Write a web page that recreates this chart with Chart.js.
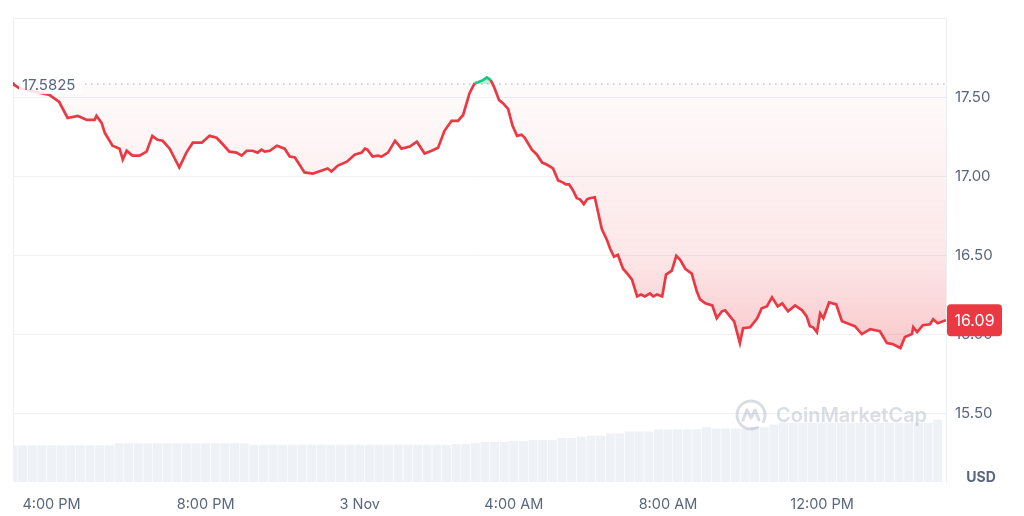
<!DOCTYPE html>
<html>
<head>
<meta charset="utf-8">
<style>
  html, body { margin: 0; padding: 0; background: #fff; }
  canvas { display: block; }
</style>
<script src="https://cdn.jsdelivr.net/npm/chart.js@4.4.0/dist/chart.umd.min.js"></script>
</head>
<body>
<canvas id="price-chart" width="1024" height="516"></canvas>
<script>
// minutes after 3:00 PM (2 Nov)
const priceMinutes = [
  0, 10, 30, 57, 72, 85, 101, 115, 127, 130,
  138, 143, 155, 166, 171, 177, 186, 197, 208, 217,
  225, 233, 244, 259, 270, 280, 294, 306, 317, 326,
  337, 348, 356, 364, 373, 381, 387, 392, 400, 411,
  423, 431, 439, 454, 467, 481, 490, 496, 506, 520,
  532, 543, 548, 552, 560, 568, 574, 584, 595, 605,
  618, 629, 641, 652, 662, 672, 683, 693, 701, 711,
  719, 724, 732, 738, 744, 750, 757, 763, 771, 778,
  785, 792, 797, 808, 816, 824, 831, 841, 849, 856,
  861, 866, 872, 878, 883, 889, 894, 898, 906, 917,
  925, 930, 936, 942, 950, 958, 964, 972, 978, 984,
  992, 997, 1003, 1011, 1017, 1026, 1033, 1039, 1047, 1057,
  1065, 1070, 1078, 1089, 1096, 1104, 1109, 1120, 1123, 1132,
  1137, 1148, 1159, 1166, 1174, 1182, 1191, 1198, 1207, 1218,
  1229, 1236, 1241, 1246, 1252, 1257, 1262, 1271, 1282, 1291,
  1299, 1311, 1322, 1335, 1350, 1361, 1370, 1382, 1389, 1400,
  1402, 1408, 1417, 1428, 1433, 1440, 1453
];

const prices = [
  17.5825, 17.556, 17.538, 17.513, 17.469, 17.368, 17.381, 17.356, 17.356, 17.381,
  17.337, 17.274, 17.193, 17.174, 17.105, 17.161, 17.130, 17.130, 17.155, 17.255,
  17.230, 17.224, 17.174, 17.055, 17.149, 17.212, 17.212, 17.255, 17.243, 17.205,
  17.155, 17.149, 17.130, 17.161, 17.161, 17.149, 17.168, 17.155, 17.161, 17.193,
  17.174, 17.124, 17.118, 17.024, 17.017, 17.036, 17.049, 17.030, 17.067, 17.092,
  17.136, 17.149, 17.174, 17.168, 17.124, 17.130, 17.124, 17.149, 17.224, 17.174,
  17.187, 17.218, 17.143, 17.161, 17.180, 17.287, 17.350, 17.350, 17.387, 17.525,
  17.588, 17.594, 17.607, 17.625, 17.607, 17.556, 17.481, 17.462, 17.425, 17.318,
  17.255, 17.262, 17.243, 17.168, 17.136, 17.086, 17.074, 17.049, 16.973, 16.961,
  16.948, 16.948, 16.911, 16.861, 16.854, 16.823, 16.854, 16.861, 16.867, 16.666,
  16.597, 16.541, 16.491, 16.503, 16.415, 16.378, 16.346, 16.240, 16.252, 16.240,
  16.259, 16.240, 16.252, 16.240, 16.378, 16.403, 16.497, 16.472, 16.415, 16.384,
  16.271, 16.221, 16.196, 16.183, 16.102, 16.146, 16.152, 16.096, 16.083, 15.945,
  16.039, 16.045, 16.102, 16.165, 16.177, 16.234, 16.177, 16.196, 16.146, 16.183,
  16.152, 16.114, 16.052, 16.045, 16.014, 16.133, 16.102, 16.202, 16.190, 16.083,
  16.071, 16.052, 16.002, 16.033, 16.020, 15.945, 15.939, 15.914, 15.983, 16.002,
  16.045, 16.014, 16.058, 16.064, 16.096, 16.071, 16.09
];

// 15-minute volume bars (millions USD)
const volumes = [
  29.6, 29.6, 29.6, 29.6, 29.6, 29.6, 29.6, 29.6, 29.6, 29.6, 29.6,
  31.2, 31.2, 31.2, 31.2, 31.2, 31.2, 31.2, 31.2, 31.2, 31.2, 31.2, 31.2, 31.2, 31.2,
  30.0, 30.0, 30.0, 30.0, 30.0, 30.0, 30.0, 30.0, 30.0, 30.0, 30.0,
  30.0, 30.0, 30.0, 30.0, 30.0, 30.0, 30.0, 30.0, 30.0, 30.0,
  30.8, 30.8, 31.6, 32.4, 32.4, 32.4, 33.1, 33.1, 33.9, 33.9, 33.9,
  35.5, 35.5, 36.5, 37.4, 37.4, 39.2, 39.2, 40.8, 40.8, 40.8,
  42.6, 42.6, 42.6, 42.6, 42.6, 44.5, 43.2, 43.2, 43.2, 43.2, 44.5, 44.5, 46.4,
  48, 48, 48, 48, 48, 48, 48, 48, 48, 48, 48, 48, 48, 48, 48, 48,
  50.4
];
const volumeStep = 15;

const basePrice = 17.5825;
const yTicks = [15.5, 16.0, 16.5, 17.0, 17.5];
const xTickMinutes = [60, 300, 540, 780, 1020, 1260];
const xTickLabels = ['4:00 PM', '8:00 PM', '3 Nov', '4:00 AM', '8:00 AM', '12:00 PM'];

const RED = '#ea3943';
const GREEN = '#16c784';
const TEXT = '#58667e';
const FONT = 'Inter, "Noto Sans", sans-serif';

const lastMinute = priceMinutes[priceMinutes.length - 1];

function areaFill(context) {
  const { chart } = context;
  const { chartArea, scales } = chart;
  if (!chartArea) {
    return 'rgba(234,57,67,0.1)';
  }
  const top = chartArea.top;
  const bottom = scales.y.getPixelForValue(Math.min(...prices));
  const baseY = scales.y.getPixelForValue(basePrice);
  const stop = (baseY - top) / (bottom - top);
  const gradient = chart.ctx.createLinearGradient(0, top, 0, bottom);
  gradient.addColorStop(0, 'rgba(22,199,132,0.45)');
  gradient.addColorStop(stop, 'rgba(22,199,132,0.3)');
  gradient.addColorStop(stop, 'rgba(234,57,67,0.02)');
  gradient.addColorStop(stop + (1 - stop) * 0.65, 'rgba(234,57,67,0.12)');
  gradient.addColorStop(1, 'rgba(234,57,67,0.27)');
  return gradient;
}

const overlayPlugin = {
  id: 'overlay',
  beforeDatasetsDraw(chart) {
    const { ctx, chartArea } = chart;
    ctx.save();
    ctx.strokeStyle = '#eceff2';
    ctx.lineWidth = 1;
    ctx.beginPath();
    ctx.moveTo(chartArea.left + 0.5, chartArea.bottom);
    ctx.lineTo(chartArea.left + 0.5, chartArea.top + 0.5);
    ctx.lineTo(chartArea.right, chartArea.top + 0.5);
    ctx.stroke();
    ctx.restore();
  },
  afterDraw(chart) {
    const { ctx, chartArea, scales } = chart;
    ctx.save();

    // watermark
    ctx.globalAlpha = 0.38;
    ctx.strokeStyle = '#9aa5b8';
    ctx.lineWidth = 3;
    ctx.lineCap = 'round';
    ctx.lineJoin = 'round';
    const cx = 751;
    const cy = 415;
    ctx.beginPath();
    ctx.arc(cx, cy, 14, Math.PI * 0.35, Math.PI * 2.15);
    ctx.stroke();
    ctx.beginPath();
    ctx.moveTo(cx - 8, cy + 5);
    ctx.lineTo(cx - 4, cy - 5);
    ctx.lineTo(cx, cy + 3);
    ctx.lineTo(cx + 4, cy - 5);
    ctx.lineTo(cx + 8, cy + 5);
    ctx.stroke();
    ctx.fillStyle = '#9aa5b8';
    ctx.font = `600 20px ${FONT}`;
    ctx.textBaseline = 'middle';
    ctx.textAlign = 'left';
    ctx.fillText('CoinMarketCap', 776, 416);
    ctx.globalAlpha = 1;

    // opening price label
    const baseY = scales.y.getPixelForValue(basePrice);
    ctx.fillStyle = 'rgba(255,255,255,0.85)';
    ctx.fillRect(19, baseY - 10, 63, 20);
    ctx.fillStyle = TEXT;
    ctx.font = `15px ${FONT}`;
    ctx.fillText('17.5825', 22, baseY + 1);

    // last price tag
    const lastPrice = prices[prices.length - 1];
    const lastY = scales.y.getPixelForValue(lastPrice);
    ctx.fillStyle = RED;
    ctx.beginPath();
    ctx.roundRect(chartArea.right + 1, lastY - 16, 55, 32, 4);
    ctx.fill();
    ctx.fillStyle = '#ffffff';
    ctx.font = `16px ${FONT}`;
    ctx.textAlign = 'center';
    ctx.fillText(lastPrice.toFixed(2), chartArea.right + 28.5, lastY + 1);

    // currency
    ctx.fillStyle = TEXT;
    ctx.font = `bold 14px ${FONT}`;
    ctx.fillText('USD', 981, 478);
    ctx.restore();
  }
};

new Chart(document.getElementById('price-chart'), {
  type: 'line',
  data: {
    datasets: [
      {
        label: 'Price',
        order: 0,
        data: priceMinutes.map((m, i) => ({ x: m, y: prices[i] })),
        borderColor: RED,
        borderWidth: 2.7,
        backgroundColor: areaFill,
        fill: { target: { value: basePrice } },
        tension: 0,
        pointRadius: (ctx) => (ctx.dataIndex === 0 ? 2 : 0),
        pointBackgroundColor: RED,
        pointBorderWidth: 0,
        segment: {
          borderColor: (ctx) =>
            ctx.p0.parsed.y >= basePrice && ctx.p1.parsed.y >= basePrice ? GREEN : RED
        },
        yAxisID: 'y'
      },
      {
        label: 'Open',
        order: 1,
        data: [
          { x: 0, y: basePrice },
          { x: lastMinute, y: basePrice }
        ],
        borderColor: '#a3abb8',
        borderWidth: 1,
        borderDash: [1.5, 4.5],
        pointRadius: 0,
        fill: false,
        yAxisID: 'y'
      },
      {
        type: 'bar',
        label: 'Volume',
        order: 2,
        data: volumes.map((v, i) => ({ x: i * volumeStep, y: v })),
        backgroundColor: '#eef1f5',
        barPercentage: 1,
        categoryPercentage: 0.93,
        yAxisID: 'y2'
      }
    ]
  },
  options: {
    responsive: false,
    animation: false,
    devicePixelRatio: 1,
    layout: { padding: { left: 13, top: 14 } },
    plugins: {
      legend: { display: false },
      tooltip: { enabled: false }
    },
    scales: {
      x: {
        type: 'linear',
        offset: false,
        min: 0,
        max: lastMinute,
        afterBuildTicks: (scale) => {
          scale.ticks = xTickMinutes.map((value) => ({ value }));
        },
        afterFit: (scale) => {
          scale.height = 34;
        },
        grid: { display: false, drawTicks: false, offset: false },
        border: { display: false },
        ticks: {
          padding: 14,
          maxRotation: 0,
          autoSkip: false,
          color: TEXT,
          font: { family: FONT, size: 14.5 },
          callback: (value) => xTickLabels[xTickMinutes.indexOf(value)]
        }
      },
      y: {
        position: 'right',
        min: 15.067,
        max: 18.0,
        afterBuildTicks: (scale) => {
          scale.ticks = yTicks.map((value) => ({ value }));
        },
        afterFit: (scale) => {
          scale.width = 78;
        },
        grid: { color: '#eff1f4', drawTicks: false },
        border: { display: true, color: '#eceff2' },
        ticks: {
          padding: 9,
          color: TEXT,
          font: { family: FONT, size: 15 },
          callback: (value) => value.toFixed(2)
        }
      },
      y2: {
        display: false,
        min: 0,
        max: 375
      }
    }
  },
  plugins: [overlayPlugin]
});
</script>
</body>
</html>
